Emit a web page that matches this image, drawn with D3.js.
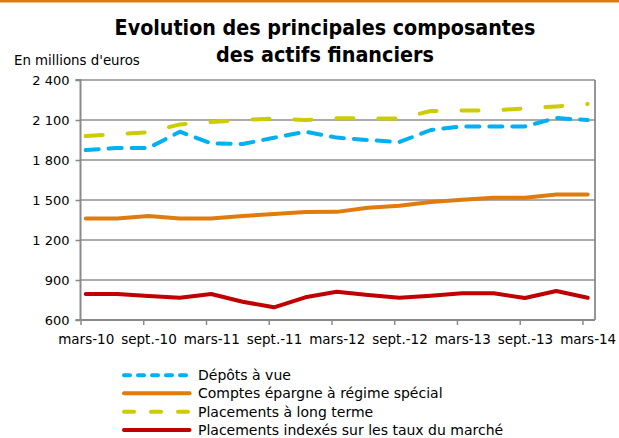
<!DOCTYPE html>
<html><head><meta charset="utf-8">
<script src="https://cdn.jsdelivr.net/npm/d3@7"></script>
<style>body{margin:0;background:#fff}svg{display:block}</style>
</head><body>
<svg id="chart" width="619" height="438"></svg>
<script>
// ---- data ----
const quarters = ["mars-10","juin-10","sept.-10","déc.-10","mars-11","juin-11","sept.-11","déc.-11",
  "mars-12","juin-12","sept.-12","déc.-12","mars-13","juin-13","sept.-13","déc.-13","mars-14"];
const tickLabels = ["mars-10","sept.-10","mars-11","sept.-11","mars-12","sept.-12","mars-13","sept.-13","mars-14"];
const depotsAVue = [1875,1890,1890,2012,1925,1920,1967,2012,1968,1950,1935,2025,2052,2052,2052,2115,2100];
const comptesEpargne = [1362,1362,1380,1362,1362,1380,1395,1410,1411,1442,1457,1485,1502,1517,1517,1542,1542];
const placementsLongTerme = [1980,1995,2008,2067,2085,2100,2112,2100,2113,2112,2112,2167,2172,2172,2187,2202,2220];
const placementsIndexes = [795,795,780,767,795,737,695,770,812,787,767,782,800,800,765,817,767];
const yTickValues = [600,900,1200,1500,1800,2100,2400];
const yTickLabels = ["600","900","1 200","1 500","1 800","2 100","2 400"];
const seriesNames = ["Dépôts à vue","Comptes épargne à régime spécial","Placements à long terme","Placements indexés sur les taux du marché"];

const series = [
  {name: seriesNames[0], values: depotsAVue, color: "#00B0F0", dash: "13,10", legDash: "6,8"},
  {name: seriesNames[1], values: comptesEpargne, color: "#E07B10", dash: null, legDash: null},
  {name: seriesNames[2], values: placementsLongTerme, color: "#CCCC00", dash: "17,25", legDash: "10,17"},
  {name: seriesNames[3], values: placementsIndexes, color: "#C00000", dash: null, legDash: null}
];

const svg = d3.select("#chart");
const L = 80.5, R = 595, T = 80, B = 320;
const monthsSpan = 49.2;
const x = d3.scaleLinear().domain([0, monthsSpan]).range([L, R]);
const y = d3.scaleLinear().domain([600, 2400]).range([B, T]);
const gridColor = "#8f8f8f", axisColor = "#8a8a8a";

// top accent bar
svg.append("rect").attr("x",0).attr("y",0).attr("width",619).attr("height",2.5).attr("fill","#E07B10");

function fitText(sel, target) {
  const w = sel.node().getComputedTextLength();
  const fs = parseFloat(sel.attr("font-size"));
  sel.attr("font-size", fs * target / w);
}

// title
const t1 = svg.append("text").attr("x",325).attr("y",34.5).attr("text-anchor","middle")
  .attr("font-family","'DejaVu Sans Condensed','DejaVu Sans',sans-serif").attr("font-weight","bold")
  .attr("font-size",20).attr("fill","#000").text("Evolution des principales composantes");
fitText(t1, 421);
const t2 = svg.append("text").attr("x",325).attr("y",62).attr("text-anchor","middle")
  .attr("font-family","'DejaVu Sans Condensed','DejaVu Sans',sans-serif").attr("font-weight","bold")
  .attr("font-size",20).attr("fill","#000").text("des actifs financiers");
fitText(t2, 218);
const yl = svg.append("text").attr("x",14).attr("y",65)
  .attr("font-family","'DejaVu Sans Condensed','DejaVu Sans',sans-serif")
  .attr("font-size",14).attr("fill","#000").text("En millions d'euros");
fitText(yl, 126);

// gridlines
svg.append("g").selectAll("line").data(yTickValues.slice(1)).join("line")
  .attr("x1",L).attr("x2",R).attr("y1",d=>y(d)).attr("y2",d=>y(d))
  .attr("stroke",gridColor).attr("stroke-width",1.3);
// right border
svg.append("line").attr("x1",R).attr("x2",R).attr("y1",T).attr("y2",B)
  .attr("stroke",axisColor).attr("stroke-width",1.8);

// y axis
const yAxis = d3.axisLeft(y).tickValues(yTickValues).tickSize(5).tickPadding(10)
  .tickFormat((d,i)=>yTickLabels[i]);
const gy = svg.append("g").attr("transform",`translate(${L},0)`).call(yAxis);
gy.select(".domain").attr("stroke",axisColor).attr("stroke-width",2).attr("d",`M-5,${T}H0V${B}`);
gy.selectAll(".tick line").attr("stroke",axisColor).attr("stroke-width",1.5);
gy.selectAll(".tick text").attr("font-family","'DejaVu Sans',sans-serif").attr("font-size",13).attr("fill","#000").attr("dx",4);

// x axis: tick marks at period starts, labels at data points
const tickMonths = tickLabels.map((d,i)=>i*6);
const xAxisMarks = d3.axisBottom(x).tickValues(tickMonths).tickSize(5).tickFormat("");
const gx = svg.append("g").attr("transform",`translate(0,${B})`).call(xAxisMarks);
gx.select(".domain").attr("stroke",axisColor).attr("stroke-width",2).attr("d",`M${L-5},0H${R}`);
gx.selectAll(".tick line").attr("stroke",axisColor).attr("stroke-width",1.5);
const xAxisLabels = d3.axisBottom(x).tickValues(tickMonths.map(m=>m+0.5)).tickSize(0).tickPadding(14)
  .tickFormat((d,i)=>tickLabels[i]);
const gxl = svg.append("g").attr("transform",`translate(0,${B})`).call(xAxisLabels);
gxl.select(".domain").remove();
gxl.selectAll(".tick text").attr("font-family","'DejaVu Sans',sans-serif").attr("font-size",13.5).attr("fill","#000");

// lines
const line = d3.line().x((d,i)=>x(i*3+0.5)).y(d=>y(d));
series.forEach(s=>{
  svg.append("path").datum(s.values).attr("d",line).attr("fill","none")
    .attr("stroke",s.color).attr("stroke-width",4).attr("stroke-linecap","round").attr("stroke-linejoin","round")
    .attr("stroke-dasharray",s.dash);
});

// legend
const legY = [375.3, 393.3, 411.8, 430];
const leg = svg.append("g");
series.forEach((s,i)=>{
  leg.append("line").attr("x1",124).attr("x2",189.5).attr("y1",legY[i]).attr("y2",legY[i])
    .attr("stroke",s.color).attr("stroke-width",4).attr("stroke-linecap","round").attr("stroke-dasharray",s.legDash);
  leg.append("text").attr("x",198).attr("y",legY[i]+5).attr("font-family","'DejaVu Sans',sans-serif")
    .attr("font-size",14).attr("fill","#000").text(s.name);
});
</script>
</body></html>
